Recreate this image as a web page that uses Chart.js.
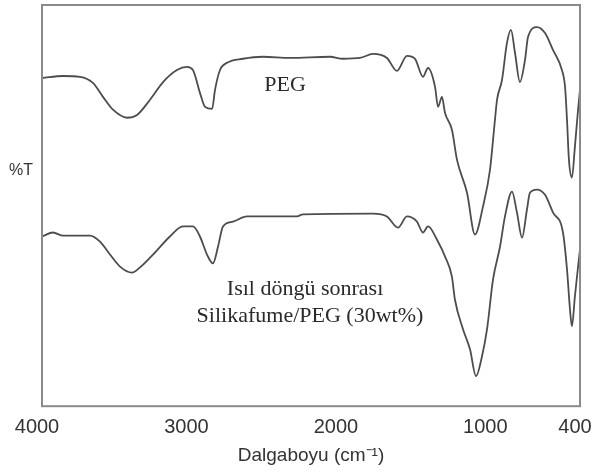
<!DOCTYPE html>
<html>
<head>
<meta charset="utf-8">
<script src="https://cdn.jsdelivr.net/npm/chart.js@4/dist/chart.umd.min.js"></script>
<style>
html,body{margin:0;padding:0;background:#fff;}
#wrap{width:593px;height:472px;position:relative;}
</style>
</head>
<body>
<div id="wrap"><canvas id="c" width="593" height="472"></canvas></div>
<script>
// ---- data (wavenumber cm-1, %T arbitrary units) ----
const xTicks = [4000, 3000, 2000, 1000, 400];

const wnPEG = [4000,3859,3746,3659,3592,3525,3431,3364,3277,3190,3097,3030,2990,2943,2909,2862,2842,2809,2762,2655,2521,2341,2073,1986,1872,1785,1692,1625,1558,1504,1451,1417,1370,1350,1324,1303,1257,1223,1156,1103,1049,1002,969,955,922,889,862,835,802,768,748,688,634,581,521,500,487,474,454,434,413,400];
const tPEG  = [81.8,82.3,82.1,80.6,77.1,73.9,71.9,72.6,76.4,80.8,83.8,84.6,83.8,78.1,74.6,74.1,78.9,83.8,85.6,86.6,87.1,86.8,87.1,86.6,86.8,87.8,86.8,83.6,87.3,86.6,82.1,84.3,79.6,74.6,77.1,73.1,68.9,61.4,53.2,42.8,49.8,59.0,71.4,76.4,81.3,90.5,93.8,88.1,80.8,86.3,92.0,94.5,93.0,88.8,83.8,79.6,71.4,61.4,57.0,64.7,73.9,78.9];

const wnSil = [4000,3926,3859,3679,3612,3545,3478,3398,3344,3257,3144,3057,2990,2943,2896,2856,2822,2789,2722,2628,2294,2254,1785,1692,1618,1558,1491,1451,1417,1357,1303,1257,1237,1183,1136,1096,1056,1022,982,935,902,855,822,788,755,735,688,634,581,514,487,467,454,434,413,400];
const tSil  = [42.3,43.3,42.5,42.5,41.0,37.8,34.8,33.3,34.6,37.8,42.3,44.8,44.8,42.3,37.8,35.6,39.8,44.8,46.0,47.3,47.3,47.8,48.0,47.3,44.5,47.3,46.0,43.3,44.8,41.5,37.3,32.3,26.6,19.2,14.2,7.5,12.4,19.2,31.6,39.8,47.3,53.5,48.3,42.0,49.0,53.2,54.0,52.7,48.3,43.3,34.1,24.1,19.9,27.4,34.8,39.1];

const labelTexts = ["PEG", "Isıl döngü sonrası", "Silikafume/PEG (30wt%)"];
const labelWn    = [2374, 2240, 2207];
const labelT     = [80.1, 29.1, 22.4];

const yLabel = "%T";
const xTitle = "Dalgaboyu (cm\u207B\u00B9)";

const toXY = (xs, ys) => xs.map((x, i) => ({x: x, y: ys[i]}));

const framePlugin = {
  id: 'frame',
  afterDraw(chart) {
    const {ctx, chartArea: a, scales} = chart;
    ctx.save();
    ctx.strokeStyle = '#8a8a8a';
    ctx.lineWidth = 2;
    ctx.strokeRect(a.left, a.top, a.right - a.left, a.bottom - a.top);
    // %T label
    ctx.fillStyle = '#333';
    ctx.font = '16px "Liberation Sans", Arial, sans-serif';
    ctx.textAlign = 'center';
    ctx.textBaseline = 'middle';
    ctx.fillText(yLabel, a.left - 21, a.top + 166);
    // annotations
    ctx.fillStyle = '#2a2a2a';
    ctx.font = '22px "Liberation Serif", "Times New Roman", serif';
    labelTexts.forEach((t, i) => {
      ctx.fillText(t, scales.x.getPixelForValue(labelWn[i]), scales.y.getPixelForValue(labelT[i]));
    });
    ctx.restore();
  }
};

new Chart(document.getElementById('c'), {
  type: 'line',
  data: {
    datasets: [
      { label: 'PEG', data: toXY(wnPEG, tPEG) },
      { label: 'Silikafume/PEG', data: toXY(wnSil, tSil) }
    ]
  },
  options: {
    responsive: false,
    animation: false,
    layout: { padding: { left: 42, right: 13, top: 5, bottom: 3 } },
    elements: {
      line: { borderColor: '#4d4d4d', borderWidth: 1.8, cubicInterpolationMode: 'monotone', fill: false },
      point: { radius: 0 }
    },
    plugins: { legend: { display: false }, tooltip: { enabled: false } },
    scales: {
      x: {
        type: 'linear',
        reverse: true,
        min: 400,
        max: 4000,
        grid: { display: false, drawTicks: false },
        border: { display: false },
        afterBuildTicks(scale) { scale.ticks = xTicks.map(v => ({value: v})); },
        afterFit(scale) { scale.paddingRight = 0; scale.paddingLeft = 0; },
        ticks: {
          autoSkip: false,
          maxRotation: 0,
          padding: 9,
          labelOffset: -5,
          color: '#333',
          font: { family: '"Liberation Sans", Arial, sans-serif', size: 20 },
          callback: v => String(v)
        },
        title: {
          display: true,
          text: xTitle,
          color: '#333',
          padding: { top: -4, bottom: 2 },
          font: { family: '"Liberation Sans", Arial, sans-serif', size: 19 }
        }
      },
      y: {
        display: false,
        min: 0,
        max: 100
      }
    }
  },
  plugins: [framePlugin]
});
</script>
</body>
</html>
